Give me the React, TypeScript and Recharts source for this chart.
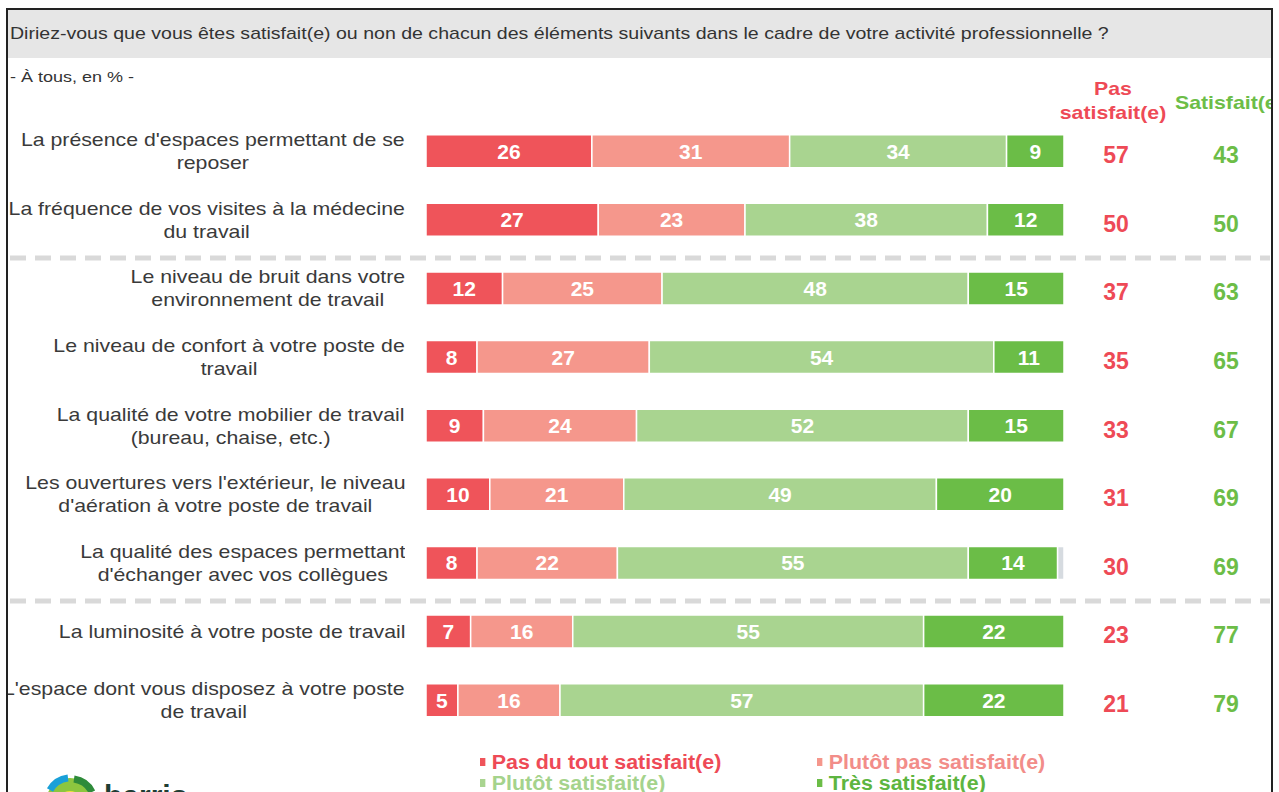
import React from "react";
import { Bar, BarChart, LabelList, XAxis, YAxis } from "recharts";

const categories = [
  "La présence d'espaces permettant de se\nreposer",
  "La fréquence de vos visites à la médecine\ndu travail",
  "Le niveau de bruit dans votre\nenvironnement de travail",
  "Le niveau de confort à votre poste de\ntravail",
  "La qualité de votre mobilier de travail\n(bureau, chaise, etc.)",
  "Les ouvertures vers l'extérieur, le niveau\nd'aération à votre poste de travail",
  "La qualité des espaces permettant\nd'échanger avec vos collègues",
  "La luminosité à votre poste de travail",
  "L'espace dont vous disposez à votre poste\nde travail",
];
const pasDuTout = [26, 27, 12, 8, 9, 10, 8, 7, 5];
const plutotPas = [31, 23, 25, 27, 24, 21, 22, 16, 16];
const plutotSat = [34, 38, 48, 54, 52, 49, 55, 55, 57];
const tresSat = [9, 12, 15, 11, 15, 20, 14, 22, 22];
const nsp = [0, 0, 0, 0, 0, 0, 1, 0, 0];
const totalPas = [57, 50, 37, 35, 33, 31, 30, 23, 21];
const totalSat = [43, 50, 63, 65, 67, 69, 69, 77, 79];

const series = [
  { key: "pasDuTout", name: "Pas du tout satisfait(e)", color: "#ef545a", text: "#ee4a56" },
  { key: "plutotPas", name: "Plutôt pas satisfait(e)", color: "#f5978c", text: "#f28d89" },
  { key: "plutotSat", name: "Plutôt satisfait(e)", color: "#a9d490", text: "#a5d38c" },
  { key: "tresSat", name: "Très satisfait(e)", color: "#6bbd47", text: "#5db540" },
];

const data = categories.map((name, i) => ({
  name,
  pasDuTout: pasDuTout[i],
  plutotPas: plutotPas[i],
  plutotSat: plutotSat[i],
  tresSat: tresSat[i],
  nsp: nsp[i],
}));

const FONT = "'Liberation Sans', Arial, sans-serif";
const RED = "#ee4a56";
const GREEN = "#6cbd47";

// chart sits inside the frame, whose content box starts at page (8, 10)
const CHART_W = 1263;
const CHART_H = 782;
const LEFT_W = 418;
const RIGHT_W = 207;
const PLOT_RIGHT = CHART_W - RIGHT_W;

function LeftTick(props: any) {
  const { y, payload } = props;
  const lines = String(payload.value).split("\n");
  const h = 60;
  return (
    <foreignObject x={-160} y={y - h / 2} width={LEFT_W - 21 + 160} height={h}>
      <div
        style={{
          height: h,
          display: "flex",
          justifyContent: "flex-end",
          alignItems: "center",
        }}
      >
        <div
          style={{
            textAlign: "center",
            fontFamily: FONT,
            fontSize: 19,
            lineHeight: "23px",
            color: "#3a3a3a",
            whiteSpace: "nowrap",
            transform: "scaleX(1.12)",
            transformOrigin: "right center",
          }}
        >
          {lines.map((l, i) => (
            <div key={i}>{l}</div>
          ))}
        </div>
      </div>
    </foreignObject>
  );
}

function RightTick(props: any) {
  const { y, index, payload } = props;
  const i = index ?? payload?.index ?? 0;
  return (
    <g fontFamily={FONT} fontWeight="bold" fontSize={23}>
      <text x={PLOT_RIGHT + 52} y={y} dy={12} textAnchor="middle" fill={RED}>
        {totalPas[i]}
      </text>
      <text x={PLOT_RIGHT + 162} y={y} dy={12} textAnchor="middle" fill={GREEN}>
        {totalSat[i]}
      </text>
    </g>
  );
}

function Separator({ top }: { top: number }) {
  return (
    <svg style={{ position: "absolute", left: 0, top: top - 10, width: CHART_W, height: 6 }}>
      <line x1={2} x2={1262} y1={3} y2={3} stroke="#d9d9d9" strokeWidth={5} strokeDasharray="16 9" />
    </svg>
  );
}

export default function App() {
  return (
    <div
      style={{
        position: "absolute",
        left: 0,
        top: 0,
        width: 1279,
        height: 792,
        overflow: "hidden",
        background: "#fff",
      }}
    >
      <div
        style={{
          position: "absolute",
          left: 6,
          top: 8,
          width: CHART_W,
          height: 800,
          border: "2px solid #222",
          overflow: "hidden",
          fontFamily: FONT,
        }}
      >
        <div
          style={{
            position: "absolute",
            left: 0,
            top: 0,
            width: "100%",
            height: 48,
            background: "#e6e6e6",
          }}
        />
        <div
          style={{
            position: "absolute",
            left: 2,
            top: 0,
            height: 48,
            color: "#333",
            fontSize: 17,
            lineHeight: "48px",
            whiteSpace: "nowrap",
            transform: "scaleX(1.15)",
            transformOrigin: "left center",
          }}
        >
          Diriez-vous que vous êtes satisfait(e) ou non de chacun des éléments suivants dans le cadre de votre activité professionnelle ?
        </div>
        <div
          style={{
            position: "absolute",
            left: 2,
            top: 58,
            fontSize: 15,
            color: "#333",
            whiteSpace: "nowrap",
            transform: "scaleX(1.2)",
            transformOrigin: "left center",
          }}
        >
          - À tous, en % -
        </div>
        <div
          style={{
            position: "absolute",
            left: 1113 - 8 - 68,
            top: 67,
            width: 136,
            textAlign: "center",
            color: RED,
            fontWeight: "bold",
            fontSize: 19,
            lineHeight: "24px",
            transform: "scaleX(1.12)",
          }}
        >
          Pas
          <br />
          satisfait(e)
        </div>
        <div
          style={{
            position: "absolute",
            left: 1175 - 8,
            top: 82,
            color: GREEN,
            fontWeight: "bold",
            fontSize: 19,
            whiteSpace: "nowrap",
            transform: "scaleX(1.12)",
            transformOrigin: "left center",
          }}
        >
          Satisfait(e)
        </div>

        <Separator top={255} />
        <Separator top={598} />

        <div style={{ position: "absolute", left: 0, top: 0 }}>
          <BarChart
            width={CHART_W}
            height={CHART_H}
            data={data}
            layout="vertical"
            barSize={33}
            margin={{ top: 106.7, bottom: 57.7, left: 0, right: 0 }}
          >
            <XAxis type="number" domain={[0, 100]} hide />
            <YAxis
              yAxisId="left"
              type="category"
              dataKey="name"
              width={LEFT_W}
              tickLine={false}
              axisLine={false}
              interval={0}
              tick={<LeftTick />}
            />
            <YAxis
              yAxisId="right"
              orientation="right"
              type="category"
              dataKey="name"
              width={RIGHT_W}
              tickLine={false}
              axisLine={false}
              interval={0}
              tick={<RightTick />}
            />
            {series.map((s) => (
              <Bar
                key={s.key}
                yAxisId="left"
                dataKey={s.key}
                stackId="a"
                fill={s.color}
                stroke="#fff"
                strokeWidth={1.5}
                isAnimationActive={false}
              >
                <LabelList
                  dataKey={s.key}
                  position="center"
                  fill="#fff"
                  fontFamily={FONT}
                  fontWeight="bold"
                  fontSize={21}
                />
              </Bar>
            ))}
            <Bar
              yAxisId="left"
              dataKey="nsp"
              stackId="a"
              fill="#d6dbe0"
              stroke="#fff"
              strokeWidth={1.5}
              isAnimationActive={false}
            />
          </BarChart>
        </div>

        <div style={{ position: "absolute", left: 472, top: 741, fontWeight: "bold", fontSize: 20 }}>
          {series.map((s, i) => (
            <div
              key={s.key}
              style={{
                position: "absolute",
                left: (i % 2) * 337,
                top: Math.floor(i / 2) * 21,
                color: s.text,
                whiteSpace: "nowrap",
                display: "flex",
                alignItems: "center",
                lineHeight: "22px",
                transform: "scaleX(1.07)",
                transformOrigin: "left center",
              }}
            >
              <span
                style={{ display: "inline-block", width: 5, height: 8, background: s.color, marginRight: 6 }}
              />
              {s.name}
            </div>
          ))}
        </div>

        <svg style={{ position: "absolute", left: 30, top: 762, width: 200, height: 40 }}>
          <circle cx={32} cy={30} r={24} fill="#8cc63f" />
          <path d="M 12 18 A 24 24 0 0 1 30 6" stroke="#1aa0d8" strokeWidth={7} fill="none" />
          <path d="M 36 7 A 24 24 0 0 1 54 20" stroke="#2e8b3a" strokeWidth={7} fill="none" />
          <circle cx={32} cy={32} r={13} fill="#f2e13a" />
          <text x={66} y={34} fill="#1f3d33" fontFamily={FONT} fontWeight="bold" fontSize={30}>
            harris
          </text>
        </svg>
      </div>
    </div>
  );
}
